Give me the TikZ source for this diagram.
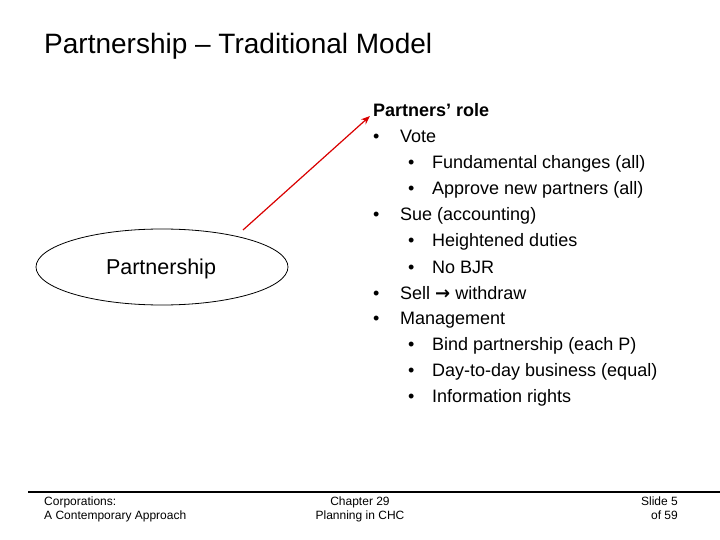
\documentclass[tikz,border=0pt]{standalone}
\usepackage{fontspec}
\setmainfont{Liberation Sans}
\newfontfamily\djv{DejaVu Sans}
\usetikzlibrary{shapes.geometric,arrows.meta}
\begin{document}
\begin{tikzpicture}[x=1pt,y=-1pt,
  txt/.style={anchor=base west,inner sep=0pt,font=\fontsize{18}{21}\selectfont},
  foot/.style={inner sep=0pt,font=\fontsize{12}{14}\selectfont,align=center}]
\useasboundingbox (0,0) rectangle (720,540);
\node[anchor=base west,inner sep=0pt,font=\fontsize{28}{32}\selectfont] (title) at (44,54) {Partnership – Traditional Model};
\node[draw,ellipse,minimum width=252,minimum height=76,inner sep=0pt,line width=0.8pt] (ell) at (162,267) {};
\node[anchor=base,inner sep=0pt,font=\fontsize{21.5}{24}\selectfont] (pt) at (161,274) {Partnership};
\node[txt,font=\fontsize{18}{21}\selectfont\bfseries] (role) at (373,117) {Partners’ role};
\coordinate (tip) at (370,116);
\draw[red!85!black,line width=1.2pt,-{Stealth[length=9pt,width=7pt]}] (243,230) -- (tip);
\foreach \y/\t [count=\i] in {137/Vote,215/Sue (accounting),293/Sell {\djv\bfseries →} withdraw,318/Management}{
  \node[txt] (b\i) at (373,\y+6) {•};
  \node[txt] (t\i) at (400,\y+6) {\t};}
\foreach \y/\t [count=\i] in {163/Fundamental changes (all),189/Approve new partners (all),241/Heightened duties,267/No BJR,344/Bind partnership (each P),370/Day-to-day business (equal),396/Information rights}{
  \node[txt] (sb\i) at (408,\y+6) {•};
  \node[txt] (st\i) at (432,\y+6) {\t};}
\coordinate (l1) at (28,492);
\coordinate (l2) at (720,492);
\draw[line width=1.2pt] (l1) -- (l2);
\node[foot,anchor=north west,align=left] (f1) at (44,497) {Corporations:\\A Contemporary Approach};
\node[foot,anchor=north] (f2) at (360,497) {Chapter 29\\Planning in CHC};
\node[foot,anchor=north east,align=right] (f3) at (678,497) {Slide 5\\of 59};
\end{tikzpicture}
\end{document}
